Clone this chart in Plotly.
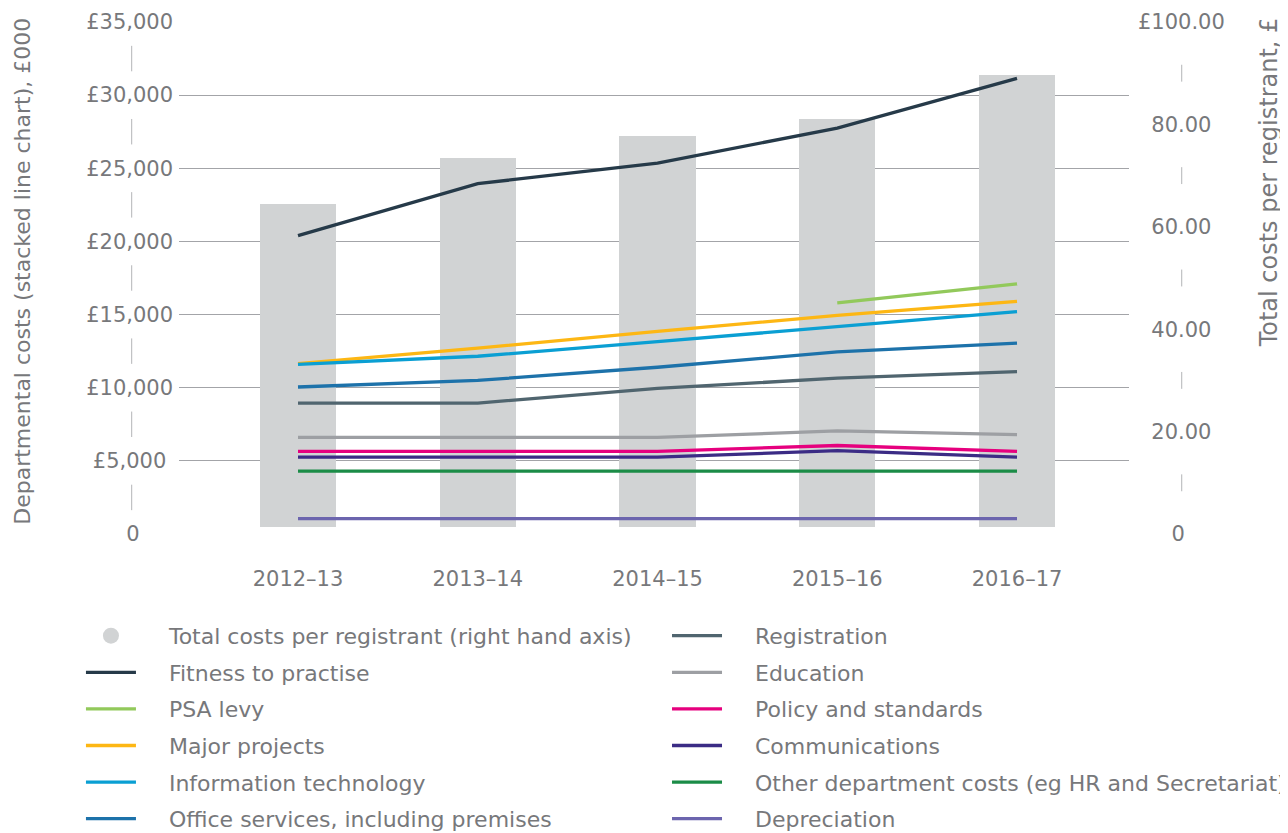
import math
import plotly.graph_objects as go

# ---------------- data ----------------
years = ["2012–13", "2013–14", "2014–15", "2015–16", "2016–17"]

# right-hand axis (bars)
cost_per_registrant = [64.5, 73.5, 77.8, 81.1, 89.7]

# left-hand axis (lines, £000)
fitness_to_practise = [20400, 23950, 25350, 27750, 31150]
psa_levy = [None, None, None, 15800, 17100]
major_projects = [11650, 12700, 13850, 14950, 15900]
information_technology = [11600, 12150, 13150, 14200, 15200]
office_services = [10050, 10500, 11400, 12450, 13050]
registration = [8950, 8950, 9950, 10650, 11100]
education = [6600, 6600, 6600, 7050, 6800]
policy_and_standards = [5650, 5650, 5650, 6050, 5650]
communications = [5250, 5250, 5250, 5700, 5250]
other_department_costs = [4300, 4300, 4300, 4300, 4300]
depreciation = [1050, 1050, 1050, 1050, 1050]

left_tickvals = [0, 5000, 10000, 15000, 20000, 25000, 30000, 35000]
left_ticktext = ["0", "£5,000", "£10,000", "£15,000", "£20,000", "£25,000", "£30,000", "£35,000"]
right_tickvals = [0, 20, 40, 60, 80, 100]
right_ticktext = ["0", "20.00", "40.00", "60.00", "80.00", "£100.00"]

# ---------------- style ----------------
FONT = "DejaVu Sans"
TEXT = "#77787b"
GRID = "#a3a4a8"
MARK = "#b3b4b7"
BAR = "#d1d3d4"
BAR_FLOOR = 1.3  # bars start slightly above the axis
NB = "\u00a0"
LEGEND_GAP = NB * 4  # space between legend symbol and its text

series = [
    ("Fitness to practise", fitness_to_practise, "#263a49", "legend"),
    ("PSA levy", psa_levy, "#92c95b", "legend"),
    ("Major projects", major_projects, "#fdb714", "legend"),
    ("Information technology", information_technology, "#0a9fd3", "legend"),
    ("Office services, including premises", office_services, "#1d72aa", "legend"),
    ("Registration", registration, "#50656f", "legend2"),
    ("Education", education, "#9d9fa3", "legend2"),
    ("Policy and standards", policy_and_standards, "#e6007e", "legend2"),
    ("Communications", communications, "#3b2c85", "legend2"),
    ("Other department costs (eg HR and Secretariat)", other_department_costs, "#1b8c47", "legend2"),
    ("Depreciation", depreciation, "#6c65ae", "legend2"),
]

fig = go.Figure()

# bars on the right-hand axis (main y axis)
fig.add_trace(go.Bar(
    x=years,
    y=[v - BAR_FLOOR for v in cost_per_registrant],
    base=BAR_FLOOR,
    marker=dict(color=BAR, line=dict(width=0)),
    width=0.423,
    yaxis="y",
    showlegend=False,
    name="Total costs per registrant (right hand axis)",
))

# legend entry with a round symbol for the bars
fig.add_trace(go.Scatter(
    x=[None], y=[None], mode="markers",
    marker=dict(symbol="circle", size=25, color=BAR),
    name=LEGEND_GAP + "Total costs per registrant (right hand axis)",
    legend="legend", legendgroup="g0", yaxis="y",
))

for i, (name, vals, color, leg) in enumerate(series):
    fig.add_trace(go.Scatter(
        x=years, y=vals, mode="lines", name=LEGEND_GAP + name,
        line=dict(color=color, width=3.3),
        yaxis="y2", legend=leg, legendgroup=f"g{i + 1}", connectgaps=False,
    ))


def _em(s):
    w = {"£": 0.636, ".": 0.318, ",": 0.318}
    return sum(w.get(c, 0.636) for c in s)


def centre_pad(label, widest, side):
    n = math.floor((_em(widest) - _em(label)) / 2 / 0.318 + 0.4)
    return NB * n + label if side == "left" else label + NB * n


left_labels = [centre_pad(t, "£35,000", "right") for t in left_ticktext]
right_labels = [centre_pad(t, "£100.00", "left") for t in right_ticktext]

# decorative separator marks between the tick labels
shapes = []
for a, b in zip(left_tickvals[:-1], left_tickvals[1:]):
    m = (a + b) / 2
    shapes.append(dict(type="line", xref="paper", yref="y2",
                       x0=-0.0498, x1=-0.0498, y0=m - 870, y1=m + 870,
                       line=dict(color=MARK, width=1)))
for a, b in zip(right_tickvals[:-1], right_tickvals[1:]):
    m = (a + b) / 2
    shapes.append(dict(type="line", xref="paper", yref="y",
                       x0=1.0555, x1=1.0555, y0=m - 1.65, y1=m + 1.65,
                       line=dict(color=MARK, width=1)))

legend_common = dict(
    yanchor="top", xanchor="left", y=-0.158,
    font=dict(size=22, color=TEXT, family=FONT),
    bgcolor="rgba(0,0,0,0)", borderwidth=0,
    tracegroupgap=5, traceorder="grouped", itemwidth=50,
    itemsizing="trace",
)

fig.update_layout(
    width=1280, height=825,
    margin=dict(l=171, r=159, t=14, b=299, autoexpand=False),
    paper_bgcolor="white", plot_bgcolor="white",
    font=dict(family=FONT, size=21, color=TEXT),
    bargap=0,
    shapes=shapes,
    xaxis=dict(
        type="category", range=[-0.662, 4.623],
        showgrid=False, zeroline=False, showline=False, ticks="",
        tickfont=dict(size=21, color=TEXT), ticklabelstandoff=30,
    ),
    yaxis=dict(
        side="right", range=[0, 100],
        tickvals=right_tickvals, ticktext=right_labels,
        showgrid=False, zeroline=False, showline=False, ticks="",
        tickfont=dict(size=21, color=TEXT), ticklabelstandoff=8,
    ),
    yaxis2=dict(
        side="left", overlaying="y", range=[0, 35000],
        tickvals=left_tickvals, ticktext=left_labels,
        showgrid=True, gridcolor=GRID, gridwidth=1,
        zeroline=False, showline=False, ticks="",
        tickfont=dict(size=21, color=TEXT), ticklabelstandoff=5,
    ),
    legend=dict(x=-0.1032, **legend_common),
    legend2=dict(x=0.5137, **legend_common),
    annotations=[
        dict(text="Departmental costs (stacked line chart), £000",
             xref="paper", yref="paper", x=-0.1647, y=1.0123,
             xanchor="center", yanchor="top", textangle=-90, showarrow=False,
             font=dict(size=22, color=TEXT, family=FONT)),
        dict(text="Total costs per registrant, £",
             xref="paper", yref="paper", x=1.147, y=1.0123,
             xanchor="center", yanchor="top", textangle=-90, showarrow=False,
             font=dict(size=24, color=TEXT, family=FONT)),
    ],
)

fig.write_html("out.html")
